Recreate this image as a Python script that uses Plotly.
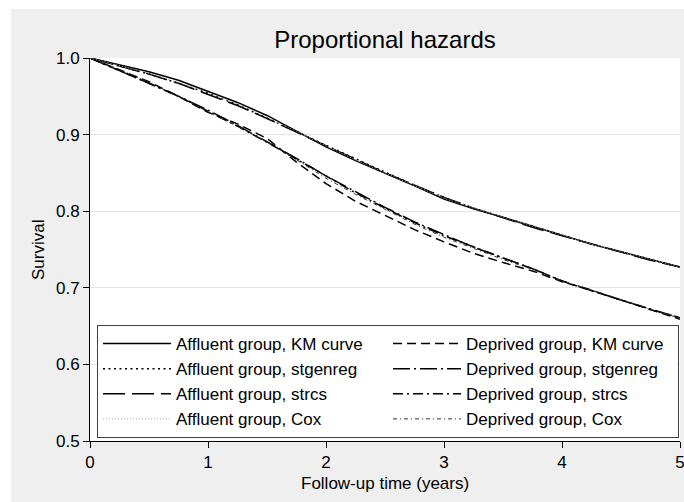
import plotly.graph_objects as go

# Follow-up time grid (years)
time = [0, 0.25, 0.5, 0.75, 1.0, 1.25, 1.5, 1.75, 2.0, 2.25, 2.5,
        2.75, 3.0, 3.25, 3.5, 3.75, 4.0, 4.25, 4.5, 4.75, 5.0]

# Affluent group survival estimates
aff_km = [1.000, 0.991, 0.982, 0.971, 0.957, 0.942, 0.925, 0.905, 0.884, 0.866, 0.850,
          0.833, 0.816, 0.803, 0.792, 0.780, 0.768, 0.757, 0.747, 0.737, 0.727]
aff_stgenreg = [1.000, 0.990, 0.979, 0.967, 0.954, 0.939, 0.922, 0.904, 0.886, 0.868, 0.851,
                0.834, 0.818, 0.804, 0.792, 0.780, 0.768, 0.757, 0.747, 0.737, 0.727]
aff_strcs = [1.000, 0.990, 0.979, 0.967, 0.953, 0.938, 0.921, 0.903, 0.885, 0.867, 0.850,
             0.834, 0.818, 0.804, 0.791, 0.779, 0.768, 0.757, 0.746, 0.736, 0.727]
aff_cox = [1.000, 0.990, 0.980, 0.968, 0.955, 0.940, 0.923, 0.904, 0.885, 0.867, 0.850,
           0.834, 0.817, 0.804, 0.792, 0.780, 0.768, 0.757, 0.747, 0.737, 0.727]

# Deprived group survival estimates
dep_km = [1.000, 0.985, 0.969, 0.950, 0.929, 0.914, 0.895, 0.864, 0.836, 0.813, 0.795,
          0.776, 0.760, 0.745, 0.733, 0.722, 0.708, 0.697, 0.684, 0.671, 0.659]
dep_stgenreg = [1.000, 0.984, 0.967, 0.950, 0.932, 0.912, 0.891, 0.869, 0.846, 0.825, 0.805,
                0.786, 0.769, 0.753, 0.739, 0.725, 0.709, 0.696, 0.684, 0.672, 0.661]
dep_strcs = [1.000, 0.984, 0.967, 0.950, 0.931, 0.911, 0.890, 0.868, 0.845, 0.824, 0.804,
             0.785, 0.768, 0.753, 0.739, 0.725, 0.709, 0.696, 0.684, 0.672, 0.661]
dep_cox = [1.000, 0.985, 0.968, 0.950, 0.930, 0.911, 0.891, 0.867, 0.843, 0.822, 0.802,
           0.783, 0.766, 0.751, 0.737, 0.724, 0.709, 0.697, 0.684, 0.672, 0.660]

x_ticks = [0, 1, 2, 3, 4, 5]
y_ticks = [0.5, 0.6, 0.7, 0.8, 0.9, 1.0]

FONT = "Liberation Sans, Arial, Helvetica, sans-serif"

# (name, values, colour, width, dash) in legend reading order
series = [
    ("Affluent group, KM curve", aff_km, "black", 1.5, "solid"),
    ("Deprived group, KM curve", dep_km, "black", 1.5, "9px,5px"),
    ("Affluent group, stgenreg", aff_stgenreg, "black", 1.5, "2px,3.5px"),
    ("Deprived group, stgenreg", dep_stgenreg, "black", 1.5, "17px,4px,2px,4px"),
    ("Affluent group, strcs", aff_strcs, "black", 1.5, "22px,7px"),
    ("Deprived group, strcs", dep_strcs, "black", 1.5, "10px,4px,2px,4px"),
    ("Affluent group, Cox", aff_cox, "#aaaaaa", 1.0, "1px,2px"),
    ("Deprived group, Cox", dep_cox, "#333333", 1.0, "4px,3px,1px,3px"),
]

fig = go.Figure()
for name, vals, col, w, dash in series:
    fig.add_trace(go.Scatter(
        x=time, y=vals, mode="lines", name=name,
        line=dict(color=col, width=w, dash=dash),
    ))

W, H = 684, 502
L, R, T, B = 90, 4, 58, 61
pw, ph = W - L - R, H - T - B


def px(xp):
    return (xp - L) / pw


def py(yp):
    return (H - B - yp) / ph


fig.update_layout(
    width=W, height=H,
    margin=dict(l=L, r=R, t=T, b=B, autoexpand=False),
    paper_bgcolor="#efefef",
    plot_bgcolor="white",
    font=dict(family=FONT, size=17, color="black"),
    title=dict(text="Proportional hazards", x=px(385), xref="paper",
               xanchor="center", y=1 - 40 / H, yanchor="middle",
               font=dict(size=24, color="black")),
    showlegend=True,
    legend=dict(
        orientation="h", x=px(97), y=py(325), xanchor="left", yanchor="top",
        bgcolor="white", bordercolor="#404040", borderwidth=1,
        font=dict(size=17, color="black"),
        itemwidth=68, entrywidth=207, entrywidthmode="pixels",
        traceorder="normal",
    ),
    xaxis=dict(
        range=[0, 5], tickvals=x_ticks, ticktext=[str(v) for v in x_ticks],
        showgrid=False, zeroline=False, showline=True, linecolor="black",
        linewidth=1, ticks="outside", ticklen=6, tickcolor="black",
        tickfont=dict(size=17), ticklabeloverflow="allow", automargin=False,
    ),
    yaxis=dict(
        range=[0.5, 1.0], tickvals=y_ticks,
        ticktext=[f"{v:.1f}" for v in y_ticks],
        showgrid=True, gridcolor="#e4e4e4", gridwidth=1,
        zeroline=False, showline=True, linecolor="black", linewidth=1,
        ticks="outside", ticklen=6, tickcolor="black",
        tickfont=dict(size=17), ticklabeloverflow="allow", automargin=False,
    ),
    shapes=[
        # white margin strips around the grey backdrop
        dict(type="rect", xref="paper", yref="paper", x0=px(0), x1=px(11),
             y0=py(H), y1=py(0), fillcolor="white", line_width=0, layer="below"),
        dict(type="rect", xref="paper", yref="paper", x0=px(0), x1=px(W),
             y0=py(9), y1=py(0), fillcolor="white", line_width=0, layer="below"),
    ],
    annotations=[
        dict(text="Survival", xref="paper", yref="paper", x=px(38), y=py(250),
             textangle=-90, showarrow=False, xanchor="center", yanchor="middle",
             font=dict(size=17)),
        dict(text="Follow-up time (years)", xref="paper", yref="paper",
             x=px(385), y=py(483), showarrow=False, xanchor="center",
             yanchor="middle", font=dict(size=17)),
    ],
)

fig.write_html("out.html")
